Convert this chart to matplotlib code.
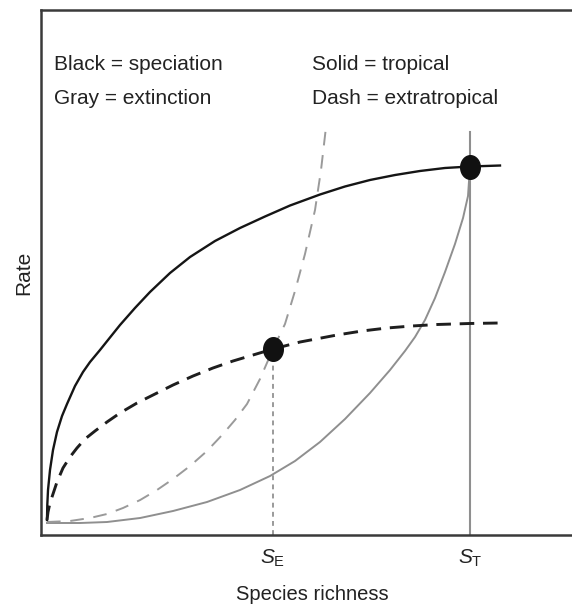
import matplotlib
matplotlib.use("Agg")
import matplotlib.pyplot as plt
from matplotlib.path import Path
import numpy as np

plt.rcParams['font.family'] = ['Liberation Sans', 'DejaVu Sans']
plt.rcParams['mathtext.fontset'] = 'custom'
plt.rcParams['mathtext.rm'] = 'Liberation Sans'
plt.rcParams['mathtext.it'] = 'Liberation Sans:italic'

# ---- data (arbitrary units, S_T = 100) ----
S_E = 53.43
S_T = 100.0

# black solid: tropical speciation
spec_trop_x = [0, 0.07, 0.24, 0.71, 1.42, 2.36, 3.55, 4.73, 6.62, 8.51, 10.17, 12.53,
               14.89, 17.26, 20.80, 24.35, 29.08, 33.81, 39.72, 45.63, 51.54, 57.45,
               64.54, 70.45, 76.36, 82.27, 88.18, 94.09, 100.0, 107.09]
spec_trop_y = [0, 4.25, 8.5, 14.16, 19.83, 24.93, 29.46, 32.86, 37.96, 41.93, 44.76, 48.16,
               51.70, 55.24, 60.06, 64.59, 69.97, 74.50, 79.04, 82.72, 85.98, 89.09,
               92.21, 94.48, 96.32, 97.73, 98.87, 99.72, 100.14, 100.42]

# black dashed: extratropical speciation
spec_extra_x = [0, 0.24, 0.71, 1.42, 2.36, 3.78, 5.44, 7.09, 8.98, 11.35, 14.18, 17.26,
                21.28, 25.53, 29.79, 34.52, 39.24, 43.97, 48.70, 53.43, 59.81, 68.56,
                74.47, 80.38, 86.29, 92.20, 100.0, 107.09]
spec_extra_y = [0, 2.27, 4.82, 7.37, 10.76, 14.73, 17.85, 20.40, 22.95, 25.21, 27.76, 30.31,
                33.14, 35.69, 38.24, 40.79, 43.06, 45.04, 46.74, 48.44, 50.42, 52.41,
                53.54, 54.39, 54.96, 55.38, 55.67, 55.81]

# gray dashed: extratropical extinction
ext_extra_x = [0, 5.44, 10.17, 14.18, 17.97, 22.03, 26.00, 29.79, 33.81, 37.83, 41.61,
               44.44, 47.28, 50.35, 53.43, 56.26, 58.63, 60.99, 63.36, 64.78, 65.96]
ext_extra_y = [-0.57, -0.28, 0.57, 1.70, 3.40, 5.67, 8.50, 11.61, 15.30, 19.55, 24.36,
               28.33, 32.86, 39.94, 48.44, 55.52, 64.87, 75.35, 87.82, 99.15, 111.33]

# gray solid: tropical extinction
ext_trop_x = [0, 7.80, 14.18, 22.03, 29.79, 37.83, 45.63, 52.72, 58.63, 64.54, 70.45,
              76.36, 81.09, 84.63, 87.00, 89.36, 91.73, 94.09, 96.45, 98.35, 99.53, 100.0]
ext_trop_y = [-0.85, -0.85, -0.57, 0.57, 2.55, 5.10, 8.50, 12.46, 16.71, 22.10, 28.61,
              35.98, 42.49, 47.88, 51.84, 56.66, 62.89, 70.25, 78.19, 85.55, 91.78, 100.14]

equil_x = [S_E, S_T]
equil_y = [48.44, 100.14]

st_line_top = 110.0

legend_left = ["Black = speciation", "Gray = extinction"]
legend_right = ["Solid = tropical", "Dash = extratropical"]
tick_labels = [r"$S_{\mathrm{E}}$", r"$S_{\mathrm{T}}$"]
xlabel = "Species richness"
ylabel = "Rate"

# ---- figure ----
W, H = 572, 607
fig = plt.figure(figsize=(W / 100, H / 100), dpi=100)
ax_left, ax_right, ax_top, ax_bot = 41, 585, 10, 535
ax = fig.add_axes([ax_left / W, (H - ax_bot) / H, (ax_right - ax_left) / W, (ax_bot - ax_top) / H])

# axis limits chosen so the plot box sits where it does in the reference
ax.set_xlim((ax_left - 47) / 4.23, (ax_right - 47) / 4.23)
ax.set_ylim((520 - ax_bot) / 3.53, (520 - ax_top) / 3.53)

gray = '#8f8f8f'
gray_d = '#9a9a9a'

ax.plot(ext_trop_x, ext_trop_y, color=gray, lw=1.4, solid_joinstyle='round', zorder=2)
ax.plot(ext_extra_x, ext_extra_y, color=gray_d, lw=1.4, dashes=(7, 5), zorder=2)
ax.plot(spec_trop_x, spec_trop_y, color='#151515', lw=1.7, solid_joinstyle='round', zorder=3)
ax.plot(spec_extra_x, spec_extra_y, color='#1e1e1e', lw=2.1, dashes=(5, 3), zorder=3)

ylo = ax.get_ylim()[0]
ax.plot([S_T, S_T], [ylo, st_line_top], color=gray, lw=1.5, zorder=1)
ax.plot([S_E, S_E], [ylo, equil_y[0]], color=gray_d, lw=1.4, dashes=(2.5, 2.2), zorder=1)

# slightly tall ellipse marker
t = np.linspace(0, 2 * np.pi, 60)
verts = np.column_stack([0.83 * np.cos(t), np.sin(t)])
ell = Path(verts, closed=True)
ax.plot(equil_x, equil_y, linestyle='none', marker=ell, markersize=17,
        color='#111111', zorder=5)

for s in ['left', 'bottom', 'top', 'right']:
    ax.spines[s].set_color('#3a3a3a')
    ax.spines[s].set_linewidth(1.8)

ax.set_yticks([])
ax.set_xticks([S_E, S_T])
ax.set_xticklabels(tick_labels, fontsize=15, color='#222222')
ax.tick_params(axis='x', length=0, pad=9)

fig.text(24 / W, 1 - 273 / H, ylabel, rotation=90, ha='center', va='center',
         fontsize=15, color='#222222')
fig.text(312 / W, 1 - 594 / H, xlabel, ha='center', va='center', fontsize=14.5,
         color='#222222')

fs = 15
for i, s in enumerate(legend_left):
    fig.text(54 / W, 1 - (64 + 35 * i) / H, s, ha='left', va='center', fontsize=fs, color='#222222')
for i, s in enumerate(legend_right):
    fig.text(312 / W, 1 - (64 + 35 * i) / H, s, ha='left', va='center', fontsize=fs, color='#222222')

fig.savefig("out.png", dpi=100)
